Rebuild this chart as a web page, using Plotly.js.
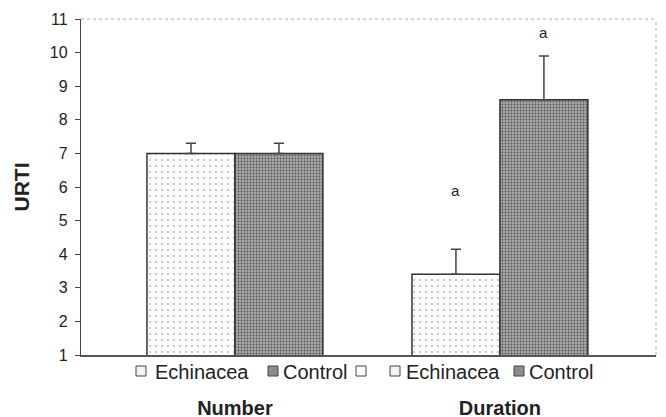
<!DOCTYPE html>
<html>
<head>
<meta charset="utf-8">
<script src="https://cdn.plot.ly/plotly-3.0.1.min.js"></script>
<style>html,body{margin:0;padding:0;background:#fff;}#chart{width:666px;height:417px;}</style>
</head>
<body>
<div id="chart"></div>
<script>
// ---- data ----
const categories = ['Number', 'Duration'];
const seriesNames = ['Echinacea', 'Control'];
const echinacea = [7.0, 3.4];
const echinaceaErr = [0.3, 0.75];
const control = [7.0, 8.6];
const controlErr = [0.3, 1.3];
const echinaceaSig = ['', 'a'];
const echinaceaSigY = [null, 5.9];
const controlSig = ['', 'a'];
const controlSigY = [null, 10.6];
const yTickVals = [1, 2, 3, 4, 5, 6, 7, 8, 9, 10, 11];
const legendRow = ['Echinacea', 'Control', '', 'Echinacea', 'Control'];

// ---- layout helpers ----
const W = 666, H = 417;
const M = {l: 81, r: 10, t: 19, b: 62};
const pw = W - M.l - M.r, ph = H - M.t - M.b;
const px = x => (x - M.l) / pw;
const py = y => (H - M.b - y) / ph;
const barOff = 0.166;
const FONT = 'Liberation Sans, Arial';

const traces = [
  {
    type: 'bar', name: seriesNames[0], x: [0, 1], y: echinacea,
    marker: {color: '#fdfdfd', line: {color: '#333', width: 1.5},
      pattern: {shape: '.', fgcolor: '#b5b5b5', bgcolor: '#fdfdfd', size: 6, solidity: 0.08}},
    error_y: {type: 'data', symmetric: false, array: echinaceaErr, arrayminus: [0, 0],
      color: '#444', thickness: 1.5, width: 5},
    showlegend: false, hoverinfo: 'skip'
  },
  {
    type: 'bar', name: seriesNames[1], x: [0, 1], y: control,
    marker: {color: '#8c8c8c', line: {color: '#333', width: 1.5},
      pattern: {shape: '.', fgcolor: '#555', bgcolor: '#a8a8a8', size: 3, solidity: 0.3}},
    error_y: {type: 'data', symmetric: false, array: controlErr, arrayminus: [0, 0],
      color: '#444', thickness: 1.5, width: 5},
    showlegend: false, hoverinfo: 'skip'
  }
];

const annotations = [];
categories.forEach((c, i) => {
  if (echinaceaSig[i]) annotations.push({x: i - barOff, y: echinaceaSigY[i], xref: 'x', yref: 'y',
    text: echinaceaSig[i], showarrow: false, font: {family: FONT, size: 15, color: '#222'}});
  if (controlSig[i]) annotations.push({x: i + barOff, y: controlSigY[i], xref: 'x', yref: 'y',
    text: controlSig[i], showarrow: false, font: {family: FONT, size: 15, color: '#222'}});
});

// legend row: swatch left x, text left x (pixels)
const legSw = [136, 268, 356, 390, 514];
const legFill = ['#f4f4f4', '#8c8c8c', '#ffffff', '#f4f4f4', '#8c8c8c'];
const legTextX = [153, 281, null, 404, 527];
const shapes = [
  {type: 'line', xref: 'paper', yref: 'paper', x0: 0, x1: 1, y0: 1, y1: 1, line: {color: '#aaa', width: 1, dash: 'dot'}},
  {type: 'line', xref: 'paper', yref: 'paper', x0: 1, x1: 1, y0: 0, y1: 1, line: {color: '#aaa', width: 1, dash: 'dot'}}
];
legendRow.forEach((t, i) => {
  shapes.push({type: 'rect', xref: 'paper', yref: 'paper',
    x0: px(legSw[i]), x1: px(legSw[i] + 10), y0: py(366), y1: py(376),
    fillcolor: legFill[i], line: {color: '#444', width: 1}});
  if (t) annotations.push({xref: 'paper', yref: 'paper', x: px(legTextX[i]), y: py(372),
    xanchor: 'left', yanchor: 'middle', text: t, showarrow: false,
    font: {family: FONT, size: 20, color: '#222'}});
});

const layout = {
  width: W, height: H, margin: M,
  paper_bgcolor: '#fff', plot_bgcolor: '#fff',
  barmode: 'group', bargap: 0.336, bargroupgap: 0,
  showlegend: false,
  xaxis: {
    range: [-0.581, 1.589], tickvals: [0, 1], ticktext: categories,
    showgrid: false, zeroline: false, showline: true, linecolor: '#555', linewidth: 1.5,
    ticks: '', ticklabelstandoff: 34,
    tickfont: {family: FONT, size: 20, color: '#222', weight: 'bold'}
  },
  yaxis: {
    range: [1, 11], tickvals: yTickVals, showgrid: false, zeroline: false,
    showline: true, linecolor: '#444', linewidth: 1.2,
    ticks: 'outside', ticklen: 5, tickcolor: '#444', tickwidth: 1,
    ticklabelstandoff: 4,
    tickfont: {family: FONT, size: 16, color: '#222'},
    title: {text: '<b>URTI</b>', standoff: 14, font: {family: FONT, size: 21, color: '#222'}}
  },
  annotations: annotations,
  shapes: shapes
};

Plotly.newPlot('chart', traces, layout, {displayModeBar: false, staticPlot: true});
</script>
</body>
</html>
